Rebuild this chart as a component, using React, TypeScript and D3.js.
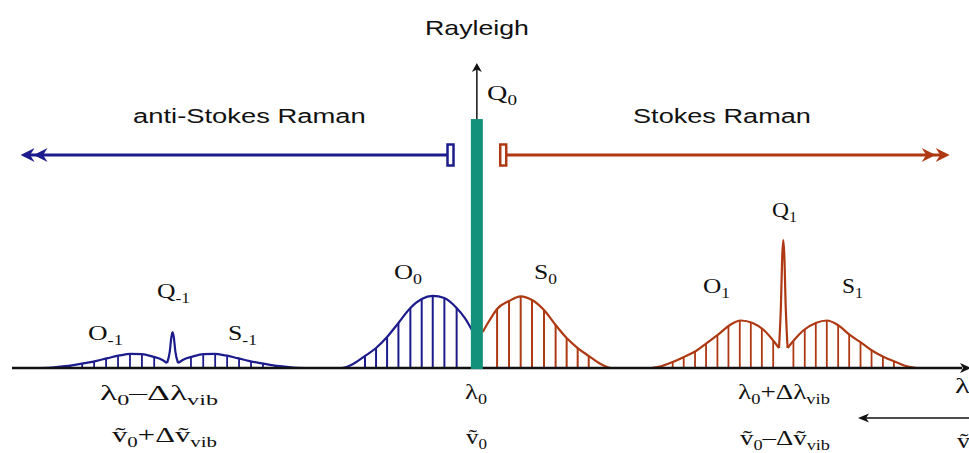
import React, { useEffect, useRef } from "react";
import * as d3 from "d3";

// x: wavelength offset from λ0 (arbitrary units, Δλ_vib = 100)
// y: intensity (arbitrary units, Q1 peak = 100)

// ---- anti-Stokes vibrational band (O-1, Q-1, S-1) ----
const oM1EnvX = [-144.3, -138.8, -135.2, -131.6, -128.0, -124.1, -120.5, -116.6, -113.0, -109.4, -105.8, -102.6, -101.1];
const oM1EnvI = [0, 0.4, 1.2, 2.3, 3.8, 5.6, 7.7, 9.8, 11.0, 10.8, 8.9, 6.3, 3.9];
const qM1X = [-101.1, -100.2, -99.7, -99.3, -98.9, -98.4, -97.5];
const qM1I = [3.9, 13, 24, 28, 24, 13, 3.9];
const sM1EnvX = [-97.5, -96.0, -92.8, -89.2, -85.6, -82.0, -78.1, -74.5, -70.6, -67.0, -63.4, -59.8, -54.3];
const sM1EnvI = [3.9, 6.3, 8.9, 10.8, 11.0, 9.8, 7.7, 5.6, 3.8, 2.3, 1.2, 0.4, 0];
const oM1StickX = [-105.3, -109.3, -113.2, -117.1, -121.0, -124.9, -128.8, -132.7, -136.7];
const oM1StickI = [8.5, 10.8, 11.0, 9.5, 7.4, 5.2, 3.5, 2.0, 0.9];
const sM1StickX = [-93.3, -89.3, -85.4, -81.5, -77.6, -73.7, -69.8, -65.9, -61.9];
const sM1StickI = [8.5, 10.8, 11.0, 9.5, 7.4, 5.2, 3.5, 2.0, 0.9];

// ---- pure rotational band (O0, S0) ----
const o0EnvX = [-44.0, -42.1, -40.1, -36.5, -32.9, -29.3, -25.6, -21.7, -18.0, -14.4, -10.6, -6.6, -3.9, -1.6];
const o0EnvI = [0, 1.2, 3.5, 9.4, 15.6, 24.2, 35.2, 46.9, 53.9, 56.3, 54.7, 46.9, 39.0, 29.7];
const o0StickX = [-36.5, -32.9, -29.3, -25.6, -21.7, -18.0, -14.4, -10.6, -6.6];
const o0StickI = [9.4, 15.6, 24.2, 35.2, 46.9, 53.9, 56.3, 54.7, 46.9];
const s0EnvX = [1.9, 4.2, 6.6, 10.5, 14.3, 18.0, 21.9, 25.7, 29.3, 32.9, 36.5, 40.1, 42.1, 43.7];
const s0EnvI = [28.1, 37.5, 46.1, 52.3, 56.0, 53.1, 45.3, 33.6, 23.4, 15.6, 9.4, 3.5, 1.2, 0];
const s0StickX = [6.6, 10.5, 14.3, 18.0, 21.9, 25.7, 29.3, 32.9, 36.5];
const s0StickI = [46.1, 52.3, 55.5, 53.1, 45.3, 33.6, 23.4, 15.6, 9.4];

// ---- Stokes vibrational band (O1, Q1, S1) ----
const o1EnvX = [56.8, 60.4, 63.9, 67.5, 71.5, 75.0, 78.6, 82.6, 86.1, 90.0, 93.6, 96.3, 98.6];
const o1EnvI = [0, 1.6, 4.7, 8.6, 13.3, 19.5, 25.8, 33.6, 37.1, 35.2, 29.7, 22.7, 15.6];
const q1X = [98.6, 99.2, 99.7, 100, 100.3, 100.8, 101.4];
const q1I = [15.6, 47, 90, 100, 90, 47, 15.6];
const s1EnvX = [101.4, 103.8, 106.7, 110.6, 114.2, 117.8, 121.7, 125.6, 129.2, 132.8, 136.7, 140.0, 143.6];
const s1EnvI = [15.6, 22.7, 29.7, 35.2, 37.1, 33.6, 25.8, 19.5, 13.3, 8.6, 4.7, 1.6, 0];
const o1StickX = [96.7, 93.0, 89.4, 85.8, 82.1, 78.5, 74.8, 71.2, 67.5, 63.9];
const o1StickI = [21.3, 30.6, 35.5, 37.0, 33.0, 25.6, 19.2, 13.0, 8.6, 4.7];
const s1StickX = [103.3, 107.0, 110.6, 114.2, 117.9, 121.5, 125.2, 128.8, 132.5, 136.1];
const s1StickI = [21.3, 30.2, 35.2, 37.1, 33.4, 26.1, 20.1, 13.9, 9.0, 5.2];

// ---- Rayleigh line ----
const rayleighX = 0;
const rayleighI = 194.5;
const rayleighArrowI = 238.3;

// ---- spectral region arrows (x in data units) ----
const antiStokesArrow = [-148.9, -8.6];
const stokesArrow = [8.6, 154.3];

const BLUE = "#1c1c8c";
const RED = "#ae3912";
const GREEN = "#14917a";
const INK = "#111111";
const SERIF = "'Liberation Serif', 'Times New Roman', serif";
const SANS = "'Liberation Sans', Arial, sans-serif";

type Part = { t: string; sub?: boolean };
type Label = { parts: Part[]; left: number; base: number; font: string; size: number; width?: number };

const labels: Label[] = [
  { parts: [{ t: "Rayleigh" }], left: 425, base: 35, font: SANS, size: 21, width: 104 },
  { parts: [{ t: "anti-Stokes Raman" }], left: 133, base: 123, font: SANS, size: 21, width: 233 },
  { parts: [{ t: "Stokes Raman" }], left: 633, base: 123, font: SANS, size: 21, width: 178 },
  { parts: [{ t: "Q" }, { t: "0", sub: true }], left: 487, base: 100, font: SERIF, size: 22, width: 30 },
  { parts: [{ t: "O" }, { t: "0", sub: true }], left: 394, base: 279, font: SERIF, size: 22, width: 28 },
  { parts: [{ t: "S" }, { t: "0", sub: true }], left: 534, base: 279, font: SERIF, size: 22, width: 23 },
  { parts: [{ t: "Q" }, { t: "1", sub: true }], left: 772, base: 217, font: SERIF, size: 22, width: 25 },
  { parts: [{ t: "O" }, { t: "1", sub: true }], left: 703, base: 293, font: SERIF, size: 22, width: 27 },
  { parts: [{ t: "S" }, { t: "1", sub: true }], left: 842, base: 293, font: SERIF, size: 22, width: 21 },
  { parts: [{ t: "Q" }, { t: "-1", sub: true }], left: 157, base: 298, font: SERIF, size: 22, width: 33 },
  { parts: [{ t: "O" }, { t: "-1", sub: true }], left: 88, base: 340, font: SERIF, size: 22, width: 35 },
  { parts: [{ t: "S" }, { t: "-1", sub: true }], left: 228, base: 340, font: SERIF, size: 22, width: 29 },
  { parts: [{ t: "λ" }, { t: "0", sub: true }, { t: "–Δλ" }, { t: "vib", sub: true }], left: 100, base: 400, font: SERIF, size: 22, width: 118 },
  { parts: [{ t: "ṽ" }, { t: "0", sub: true }, { t: "+Δṽ" }, { t: "vib", sub: true }], left: 112, base: 442, font: SERIF, size: 22, width: 105 },
  { parts: [{ t: "λ" }, { t: "0", sub: true }], left: 465, base: 399, font: SERIF, size: 22, width: 22 },
  { parts: [{ t: "ṽ" }, { t: "0", sub: true }], left: 466, base: 444, font: SERIF, size: 22, width: 21 },
  { parts: [{ t: "λ" }, { t: "0", sub: true }, { t: "+Δλ" }, { t: "vib", sub: true }], left: 738, base: 399, font: SERIF, size: 22, width: 92 },
  { parts: [{ t: "ṽ" }, { t: "0", sub: true }, { t: "–Δṽ" }, { t: "vib", sub: true }], left: 740, base: 445, font: SERIF, size: 22, width: 90 },
  { parts: [{ t: "λ" }], left: 955, base: 393, font: SERIF, size: 22, width: 15 },
  { parts: [{ t: "ṽ" }], left: 957, base: 448, font: SERIF, size: 22, width: 13 },
];

function head(tx: number, ty: number, dx: number, dy: number, len: number, hw: number, notch: number) {
  const px = -dy, py = dx;
  const bx = tx - dx * len, by = ty - dy * len;
  const nx = tx - dx * (len - notch), ny = ty - dy * (len - notch);
  return `M${tx},${ty}L${bx + px * hw},${by + py * hw}L${nx},${ny}L${bx - px * hw},${by - py * hw}Z`;
}

export default function App() {
  const ref = useRef<SVGSVGElement | null>(null);

  useEffect(() => {
    const svg = d3.select(ref.current);
    svg.selectAll("*").remove();
    const x = d3.scaleLinear().domain([-151.7, 160.6]).range([12, 969]);
    const y = d3.scaleLinear().domain([0, 100]).range([368, 240]);
    const line = d3
      .line<number>()
      .curve(d3.curveMonotoneX);

    const curve = (xs: number[], is: number[]) =>
      line.x((_, i) => x(xs[i])).y((_, i) => y(is[i]))(xs) as string;

    const bands = [
      { color: BLUE, env: [[oM1EnvX, oM1EnvI], [qM1X, qM1I], [sM1EnvX, sM1EnvI]], sticks: [[oM1StickX, oM1StickI], [sM1StickX, sM1StickI]], sw: 1.8 },
      { color: BLUE, env: [[o0EnvX, o0EnvI]], sticks: [[o0StickX, o0StickI]], sw: 2 },
      { color: RED, env: [[s0EnvX, s0EnvI]], sticks: [[s0StickX, s0StickI]], sw: 2 },
      { color: RED, env: [[o1EnvX, o1EnvI], [q1X, q1I], [s1EnvX, s1EnvI]], sticks: [[o1StickX, o1StickI], [s1StickX, s1StickI]], sw: 1.8 },
    ];

    bands.forEach((b) => {
      b.sticks.forEach(([xs, is]) => {
        svg
          .append("g")
          .selectAll("line")
          .data(xs)
          .join("line")
          .attr("x1", (d) => x(d))
          .attr("x2", (d) => x(d))
          .attr("y1", y(0))
          .attr("y2", (_, i) => y(is[i]))
          .attr("stroke", b.color)
          .attr("stroke-width", b.sw);
      });
      b.env.forEach(([xs, is]) => {
        svg
          .append("path")
          .attr("d", curve(xs, is))
          .attr("fill", "none")
          .attr("stroke", b.color)
          .attr("stroke-width", 2.2)
          .attr("stroke-linejoin", "round");
      });
    });

    // baseline axis with arrow
    svg.append("line").attr("x1", x(-151.7)).attr("x2", 962).attr("y1", y(0)).attr("y2", y(0)).attr("stroke", INK).attr("stroke-width", 2.6);
    svg.append("path").attr("d", head(971, y(0), 1, 0, 11, 5, 3)).attr("fill", INK);

    // Rayleigh line
    svg
      .append("rect")
      .attr("x", x(rayleighX) - 6)
      .attr("width", 12)
      .attr("y", y(rayleighI))
      .attr("height", y(0) - y(rayleighI) + 1)
      .attr("fill", GREEN);
    svg
      .append("line")
      .attr("x1", x(rayleighX))
      .attr("x2", x(rayleighX))
      .attr("y1", y(rayleighI))
      .attr("y2", y(rayleighArrowI) + 6)
      .attr("stroke", INK)
      .attr("stroke-width", 1.5);
    svg.append("path").attr("d", head(x(rayleighX), y(rayleighArrowI), 0, -1, 9, 5, 2.5)).attr("fill", INK);

    // spectral region arrows
    const ay = 155;
    const [aL, aR] = antiStokesArrow.map(x);
    svg.append("line").attr("x1", aL + 4).attr("x2", aR - 3).attr("y1", ay).attr("y2", ay).attr("stroke", BLUE).attr("stroke-width", 3);
    svg.append("path").attr("d", head(aL, ay, -1, 0, 14, 7, 4.5)).attr("fill", BLUE);
    svg.append("path").attr("d", head(aL + 13, ay, -1, 0, 14, 7, 4.5)).attr("fill", BLUE);
    svg.append("rect").attr("x", aR - 3).attr("y", 144.5).attr("width", 6).attr("height", 21).attr("fill", "#fff").attr("stroke", BLUE).attr("stroke-width", 2.5);

    const [sL, sR] = stokesArrow.map(x);
    svg.append("line").attr("x1", sL + 3).attr("x2", sR - 4).attr("y1", ay).attr("y2", ay).attr("stroke", RED).attr("stroke-width", 3);
    svg.append("path").attr("d", head(sR, ay, 1, 0, 14, 7, 4.5)).attr("fill", RED);
    svg.append("path").attr("d", head(sR - 14, ay, 1, 0, 14, 7, 4.5)).attr("fill", RED);
    svg.append("rect").attr("x", sL - 3).attr("y", 144.5).attr("width", 6).attr("height", 21).attr("fill", "#fff").attr("stroke", RED).attr("stroke-width", 2.5);

    // wavenumber direction arrow (bottom right)
    svg.append("line").attr("x1", 866).attr("x2", 970).attr("y1", 418).attr("y2", 418).attr("stroke", INK).attr("stroke-width", 1.6);
    svg.append("path").attr("d", head(858, 418, -1, 0, 11, 4.5, 3)).attr("fill", INK);

    // labels
    labels.forEach((lb) => {
      const t = svg
        .append("text")
        .attr("font-family", lb.font)
        .attr("font-size", lb.size)
        .attr("fill", INK);
      let cur = 0;
      lb.parts.forEach((p) => {
        const ts = t.append("tspan").text(p.t);
        const s = p.sub ? 5 : 0;
        if (p.sub) ts.attr("font-size", lb.size * 0.68);
        if (s !== cur) ts.attr("dy", s - cur);
        cur = s;
      });
      const w = (t.node() as SVGTextElement).getComputedTextLength();
      const sx = lb.width && w > 0 ? lb.width / w : 1;
      t.attr("transform", `translate(${lb.left},${lb.base}) scale(${sx},1)`);
    });
  }, []);

  return (
    <svg
      ref={ref}
      width={969}
      height={453}
      style={{ position: "absolute", left: 0, top: 0, background: "#fff" }}
    />
  );
}
